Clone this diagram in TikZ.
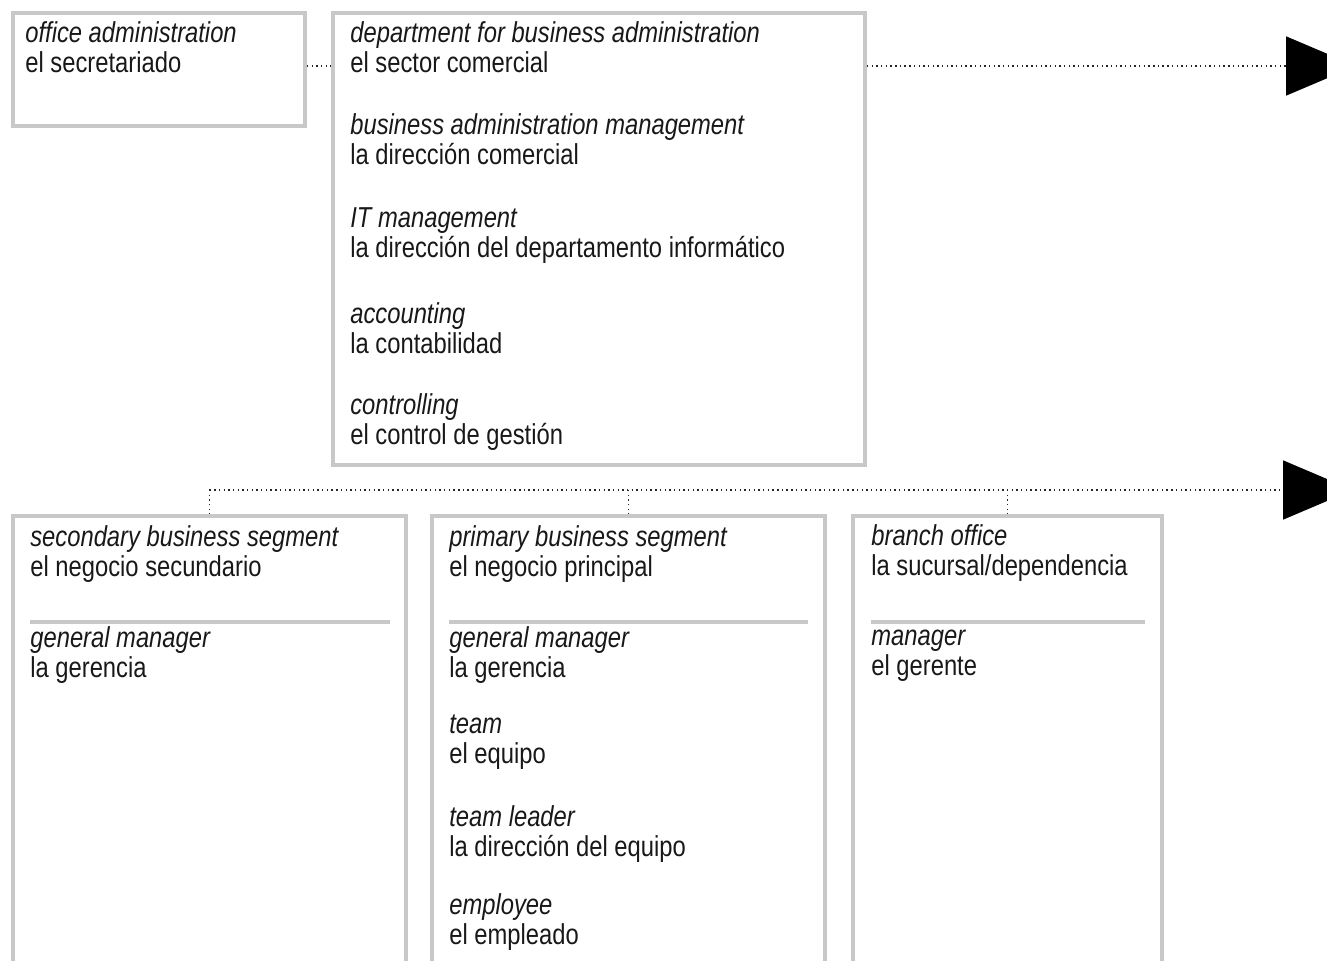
\documentclass[tikz,border=0pt]{standalone}
\usepackage{fontspec}
\setmainfont{Liberation Sans}[FakeStretch=0.825]
\usetikzlibrary{arrows.meta}

\definecolor{boxgray}{HTML}{C8C8C8}
\definecolor{inkgray}{HTML}{181818}

\tikzset{
    panel/.style={draw=boxgray, line width=2.3pt, inner sep=0pt, anchor=north west},
    term/.style={anchor=base west, inner sep=0pt, text=inkgray,
        font=\fontsize{16.4}{17}\selectfont\itshape},
    trans/.style={anchor=base west, inner sep=0pt, text=inkgray,
        font=\fontsize{16.4}{17}\selectfont},
    link/.style={draw=black!85, line width=0.95pt, dash pattern=on 0.8pt off 1.87pt},
    head/.style={-{Triangle[length=1.4cm, width=1.18cm, color=black, fill=black]}},
    rule/.style={draw=boxgray, line width=2.3pt}
}

\begin{document}
\begin{tikzpicture}[x=0.02cm, y=-0.02cm]

    % page frame, everything below the lower edge is cut off
    \path[use as bounding box, clip] (0,0) rectangle (1327,960);

    % ==========================================
    % MACRO: one entry = english term + spanish term
    % ==========================================
    \def\entry#1#2#3#4#5{
        \node[term] (#1-en) at (#2,#3) {#4};
        \node[trans] (#1-es) at (#2,#3+30) {#5};
    }

    \coordinate (topRow) at (0,66);
    \coordinate (busRow) at (0,490);

    % ==========================================
    % TOP ROW
    % ==========================================
    \node[panel, minimum width=5.84cm, minimum height=2.26cm] (office) at (11,11) {};
    \entry{secr}{25}{42}{office administration}{el secretariado}

    \node[panel, minimum width=10.64cm, minimum height=9.04cm] (dept) at (331,11) {};
    \entry{sect}{350}{42}{department for business administration}{el sector comercial}
    \entry{dirc}{350}{134}{business administration management}{la dirección comercial}
    \entry{dirit}{350}{227}{IT management}{la dirección del departamento informático}
    \entry{cont}{350}{323}{accounting}{la contabilidad}
    \entry{ctrl}{350}{414}{controlling}{el control de gestión}

    % Connectors of the top row
    \draw[link] (office.east |- topRow) -- (dept.west |- topRow);
    \draw[link, head] (dept.east |- topRow) -- (1356,66);

    % ==========================================
    % BOTTOM ROW
    % ==========================================
    \node[panel, minimum width=7.86cm, minimum height=9.84cm] (secondary) at (11,514) {};
    \entry{negs}{30}{546}{secondary business segment}{el negocio secundario}
    \draw[rule] (30,622) -- (390,622);
    \entry{gers}{30}{647}{general manager}{la gerencia}

    \node[panel, minimum width=7.86cm, minimum height=9.84cm] (primary) at (430,514) {};
    \entry{negp}{449}{546}{primary business segment}{el negocio principal}
    \draw[rule] (449,622) -- (808,622);
    \entry{gerp}{449}{647}{general manager}{la gerencia}
    \entry{equi}{449}{733}{team}{el equipo}
    \entry{direq}{449}{826}{team leader}{la dirección del equipo}
    \entry{empl}{449}{914}{employee}{el empleado}

    \node[panel, minimum width=6.18cm, minimum height=9.84cm] (branch) at (851,514) {};
    \entry{sucu}{871}{545}{branch office}{la sucursal/dependencia}
    \draw[rule] (871,622) -- (1145,622);
    \entry{gere}{871}{645}{manager}{el gerente}

    % Bus line with the drops to the three boxes
    \draw[link, head] (secondary.north |- busRow) -- (1353,490);
    \foreach \b in {secondary, primary, branch}
        \draw[link] (\b.north |- busRow) -- (\b.north);

\end{tikzpicture}
\end{document}
